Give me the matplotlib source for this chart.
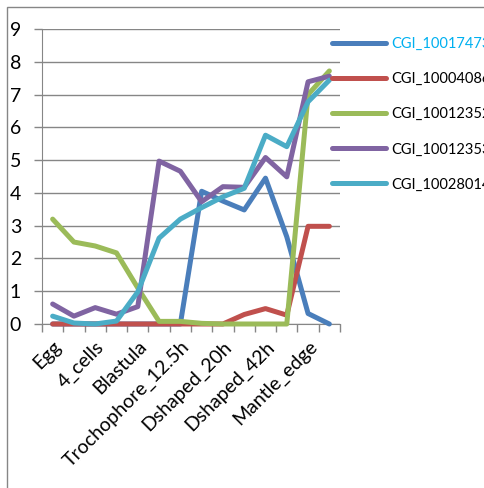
import matplotlib
matplotlib.use('Agg')
import matplotlib.pyplot as plt
from matplotlib.patches import Rectangle

plt.rcParams['font.family'] = ['Lato', 'DejaVu Sans']

# 14 developmental stages, only every other one gets a label on the axis
n_stages = 14
stage_labels = ['Egg', '4_cells', 'Blastula', 'Trochophore_12.5h',
                'Dshaped_20h', 'Dshaped_42h', 'Mantle_edge']

genes = ['CGI_10017473', 'CGI_10004086', 'CGI_10012352',
         'CGI_10012353', 'CGI_10028014']
colors = ['#4A7EBB', '#C0504D', '#9BBB59', '#8064A2', '#4BACC6']

cgi_10017473 = [0, 0, 0, 0, 0, 0, 0, 4.05, 3.75, 3.48, 4.45, 2.66, 0.32, 0]
cgi_10004086 = [0, 0, 0, 0, 0, 0, 0, 0, 0, 0.29, 0.47, 0.27, 2.98, 2.98]
cgi_10012352 = [3.2, 2.5, 2.38, 2.17, 1.1, 0.08, 0.08, 0.02, 0, 0, 0, 0, 7.0, 7.72]
cgi_10012353 = [0.61, 0.24, 0.5, 0.3, 0.53, 4.97, 4.66, 3.73, 4.19, 4.17, 5.08, 4.49, 7.39, 7.56]
cgi_10028014 = [0.24, 0.03, 0, 0.09, 0.98, 2.62, 3.2, 3.55, 3.88, 4.14, 5.76, 5.41, 6.78, 7.44]

series = [cgi_10017473, cgi_10004086, cgi_10012352, cgi_10012353, cgi_10028014]

W, H = 484, 488
fig = plt.figure(figsize=(W / 100, H / 100), dpi=100)
ax = fig.add_axes([42 / W, (H - 324) / H, 298 / W, 295 / H])

grid_col = '#868686'
x = list(range(n_stages))
for vals, name, col in zip(series, genes, colors):
    ax.plot(x, vals, color=col, lw=3.6, label=name, clip_on=False,
            solid_capstyle='round', solid_joinstyle='round', zorder=3)

ax.set_xlim(-0.5, n_stages - 0.5)
ax.set_ylim(0, 9)
ax.set_yticks(range(10))
ax.yaxis.grid(True, color=grid_col, lw=1)
ax.set_axisbelow(True)

# category boundaries carry the tick marks, labels sit under every other stage
ax.set_xticks([i - 0.5 for i in range(n_stages + 1)])
ax.set_xticklabels([])
ax.set_xticks(list(range(0, n_stages, 2)), minor=True)
ax.set_xticklabels(stage_labels, minor=True, rotation=45, ha='right',
                   rotation_mode='anchor', fontsize=14)
ax.tick_params(axis='x', which='minor', length=0, pad=10)
ax.tick_params(axis='x', which='major', length=6, color=grid_col, width=1)
ax.tick_params(axis='y', length=6, color=grid_col, width=1, labelsize=14, pad=9)

for side in ['top', 'right']:
    ax.spines[side].set_visible(False)
ax.spines['left'].set_color(grid_col)
ax.spines['bottom'].set_color(grid_col)

# legend runs past the right edge of the figure
leg = ax.legend(loc='upper left', bbox_to_anchor=(332 / W, (H - 37) / H),
                bbox_transform=fig.transFigure, frameon=False, fontsize=10.5,
                handlelength=3.7, handletextpad=0.35, labelspacing=1.45,
                borderpad=0, borderaxespad=0)
for i, t in enumerate(leg.get_texts()):
    t.set_color('#00B0F0' if i == 0 else 'black')
for h in leg.get_lines():
    h.set_linewidth(3.6)
    h.set_solid_capstyle('round')

# chart area frame, running off the right and bottom edges
fig.patches.append(Rectangle((7 / W, -0.1), 1.2, (H - 7) / H + 0.1,
                             transform=fig.transFigure, fill=False,
                             edgecolor=grid_col, lw=1))

fig.savefig('out.png', dpi=100)
